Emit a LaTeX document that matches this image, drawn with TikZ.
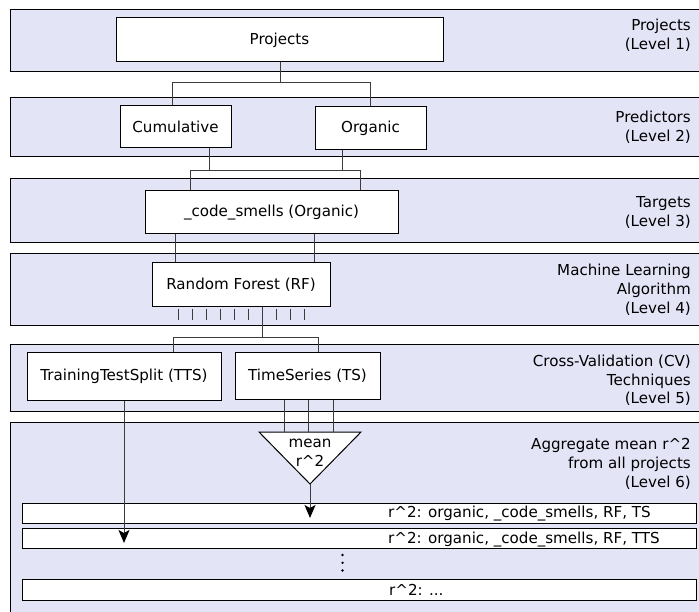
\documentclass[tikz,border=0pt]{standalone}
\usepackage{fontspec}
\setmainfont{DejaVu Sans}
\usetikzlibrary{arrows.meta}
\definecolor{bandc}{RGB}{228,228,247}
\definecolor{linec}{RGB}{60,60,60}
\begin{document}
\begin{tikzpicture}[x=1pt,y=-1pt,
  font=\fontsize{15.1}{18.8}\selectfont,
  band/.style={draw=black,fill=bandc,line width=1pt},
  box/.style={draw=black,fill=white,line width=1pt,inner sep=0pt,align=center},
  conn/.style={draw=linec,line width=1pt},
  lvl/.style={anchor=north east,align=right,inner sep=0pt},
  rowbox/.style={draw=black,fill=white,line width=1pt,inner sep=0pt,minimum width=674pt},
  rowtxt/.style={anchor=base west,inner sep=0pt},
  arr/.style={conn,-{Stealth[length=13pt,width=11pt,inset=3pt,black]}}
]
\useasboundingbox (0,0) rectangle (699,612);
\clip (0,0) rectangle (699,612);

% bands
\draw[band] (10,9.5) rectangle (710,71.5);
\draw[band] (10,97.5) rectangle (710,156.5);
\draw[band] (10,178.5) rectangle (710,243);
\draw[band] (10,254) rectangle (710,326);
\draw[band] (10,344.5) rectangle (710,411.5);
\draw[band] (10,422) rectangle (710,620);

% level labels
\node[lvl] (l1) at (691,19) {Projects\\(Level 1)};
\node[lvl] (l2) at (691,111) {Predictors\\(Level 2)};
\node[lvl] (l3) at (691,196.2) {Targets\\(Level 3)};
\node[lvl] (l4) at (691,264) {Machine Learning\\Algorithm\\(Level 4)};
\node[lvl] (l5) at (691,354.7) {Cross-Validation (CV)\\Techniques\\(Level 5)};
\node[lvl] (l6) at (691,438) {Aggregate mean r\textasciicircum 2\\from all projects\\(Level 6)};

% result rows
\node[rowbox,minimum height=20pt] (r1) at (359,513) {};
\node[rowbox,minimum height=20pt] (r2) at (359,538) {};
\node[rowbox,minimum height=21pt] (r3) at (359,589.5) {};
\node[rowtxt] (t1) at (388,517.5) {r\textasciicircum 2: organic, \_code\_smells, RF, TS};
\node[rowtxt] (t2) at (388,543) {r\textasciicircum 2: organic, \_code\_smells, RF, TTS};
\node[rowtxt] (t3) at (389,595) {r\textasciicircum 2: ...};
\foreach \y in {555,562.8,570.5} \fill (342.5,\y) circle (1.3pt);

% boxes
\node[box,minimum width=327pt,minimum height=44pt] (proj) at (279.5,40) {Projects};
\node[box,minimum width=111pt,minimum height=42pt] (cum) at (175.5,127) {Cumulative};
\node[box,minimum width=111pt,minimum height=43pt] (org) at (370.5,128.5) {Organic};
\node[box,minimum width=253pt,minimum height=43pt] (code) at (271.5,212.5) {\_code\_smells (Organic)};
\node[box,minimum width=178pt,minimum height=44pt] (rf) at (241,285) {Random Forest (RF)};
\node[box,minimum width=194pt,minimum height=47pt] (tts) at (124,376.5) {TrainingTestSplit (TTS)};
\node[box,minimum width=145pt,minimum height=46pt] (ts) at (307.5,376) {TimeSeries (TS)};

% mean triangle
\coordinate (tl) at (259,432);
\coordinate (tr) at (361,432);
\coordinate (tb) at (310,484);
\draw[draw=black,fill=white,line width=1pt] (tl) -- (tr) -- (tb) -- cycle;
\node[align=center,inner sep=0pt] (mean) at (310,453) {mean\\r\textasciicircum 2};

% connectors level 1 -> 2
\coordinate (j1) at (280,83);
\coordinate (j1l) at (172,83);
\coordinate (j1r) at (370,83);
\draw[conn] (proj.south -| j1) -- (j1);
\draw[conn] (cum.north -| j1l) -- (j1l) -- (j1r) -- (org.north -| j1r);

% level 2 -> 3
\coordinate (j2a) at (209,171);
\coordinate (j2b) at (342,171);
\coordinate (j2l) at (190,171);
\coordinate (j2r) at (360,171);
\draw[conn] (cum.south -| j2a) -- (j2a);
\draw[conn] (org.south -| j2b) -- (j2b);
\draw[conn] (code.north -| j2l) -- (j2l) -- (j2r) -- (code.north -| j2r);

% level 3 -> 4
\coordinate (j3l) at (175,250);
\coordinate (j3r) at (314,250);
\draw[conn] (code.south -| j3l) -- (rf.north -| j3l);
\draw[conn] (code.south -| j3r) -- (rf.north -| j3r);

% RF ticks
\foreach \i in {0,1,2,3,4,5,7,8,9} {
  \coordinate (tka) at ({178+14*\i},309);
  \coordinate (tkb) at ({178+14*\i},320);
  \draw[conn] (tka) -- (tkb);
}
\coordinate (j4) at (262,338);
\coordinate (j4l) at (173,338);
\coordinate (j4r) at (318,338);
\draw[conn] (rf.south -| j4) -- (j4);
\draw[conn] (tts.north -| j4l) -- (j4l) -- (j4r) -- (ts.north -| j4r);

% TS -> triangle
\foreach \x in {284,308,333} {
  \coordinate (tt) at (\x,432);
  \draw[conn] (ts.south -| tt) -- (tt);
}

% arrows
\coordinate (a1) at (310,518);
\coordinate (a2) at (124,543);
\draw[arr] (tb) -- (a1);
\draw[arr] (tts.south) -- (a2);
\end{tikzpicture}
\end{document}
